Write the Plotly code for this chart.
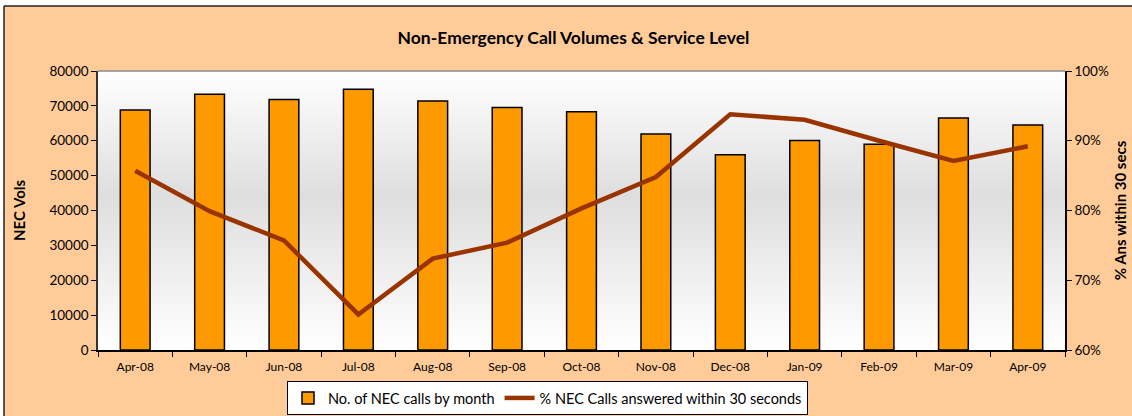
import base64
import plotly.graph_objects as go

months = ["Apr-08", "May-08", "Jun-08", "Jul-08", "Aug-08", "Sep-08", "Oct-08",
          "Nov-08", "Dec-08", "Jan-09", "Feb-09", "Mar-09", "Apr-09"]
nec_calls = [68800, 73300, 71800, 74800, 71400, 69500, 68300,
             61900, 56000, 60100, 59000, 66500, 64500]
pct_30s = [0.857, 0.799, 0.757, 0.651, 0.731, 0.754, 0.803,
           0.848, 0.938, 0.930, 0.900, 0.871, 0.892]

FONT = "Lato, Carlito, Calibri, sans-serif"

svg = ('<svg xmlns="http://www.w3.org/2000/svg" width="100" height="100" preserveAspectRatio="none">'
       '<defs><linearGradient id="g" x1="0" y1="0" x2="0" y2="1">'
       '<stop offset="0" stop-color="#ffffff"/>'
       '<stop offset="0.45" stop-color="#dedede"/>'
       '<stop offset="1" stop-color="#ffffff"/>'
       '</linearGradient></defs>'
       '<rect x="0" y="0" width="100" height="100" fill="url(#g)"/></svg>')
svg_uri = "data:image/svg+xml;base64," + base64.b64encode(svg.encode()).decode()

fig = go.Figure()
fig.add_trace(go.Bar(
    x=months, y=nec_calls, name="No. of NEC calls by month",
    marker=dict(color="#FF9900", line=dict(color="#000000", width=1.5)),
    width=0.4, yaxis="y",
))
fig.add_trace(go.Scatter(
    x=months, y=pct_30s, name="% NEC Calls answered within 30 seconds",
    mode="lines", line=dict(color="#993300", width=4.5), yaxis="y2",
))

W, H = 1132, 416
L, R, T, B = 98, 67, 71, 66
pw, ph = W - L - R, H - T - B

def px_x(x):
    return (x - L) / pw

def px_y(y):
    return (H - B - y) / ph

shapes = [
    # white strips outside the chart border (top & left)
    dict(type="rect", xref="paper", yref="paper", x0=px_x(-5), x1=px_x(W + 5),
         y0=px_y(6), y1=px_y(-5), fillcolor="white", line=dict(width=0), layer="above"),
    dict(type="rect", xref="paper", yref="paper", x0=px_x(-5), x1=px_x(4),
         y0=px_y(H + 5), y1=px_y(-5), fillcolor="white", line=dict(width=0), layer="above"),
    dict(type="line", xref="paper", yref="paper", x0=px_x(4), x1=px_x(W + 5),
         y0=px_y(6), y1=px_y(6), line=dict(color="#222222", width=1.5), layer="above"),
    dict(type="line", xref="paper", yref="paper", x0=px_x(4), x1=px_x(4),
         y0=px_y(6), y1=px_y(H + 5), line=dict(color="#222222", width=1.5), layer="above"),
    # top border of plot area
    dict(type="line", xref="paper", yref="paper", x0=0, x1=1, y0=1, y1=1,
         line=dict(color="#8c8c8c", width=1.5), layer="above"),
]

fig.update_layout(
    width=W, height=H,
    margin=dict(l=L, r=R, t=T, b=B, autoexpand=False),
    paper_bgcolor="#FFCC99",
    plot_bgcolor="rgba(0,0,0,0)",
    font=dict(family=FONT, color="#000000"),
    title=dict(text="<b>Non-Emergency Call Volumes & Service Level</b>",
               x=573.5 / W, xanchor="center", xref="container",
               y=1 - 38 / H, yanchor="middle", yref="container",
               font=dict(size=17.5, family=FONT, color="#000000")),
    bargap=0.6,
    showlegend=True,
    legend=dict(orientation="h", x=547.5 / W, xanchor="center", xref="container",
                y=1 - 381 / H, yanchor="top", yref="container",
                bgcolor="white", bordercolor="#000000", borderwidth=1,
                font=dict(size=14.5, family=FONT), traceorder="normal",
                itemwidth=30),
    xaxis=dict(
        type="category", showgrid=False, showline=True, linecolor="#000000", linewidth=1.5,
        ticks="outside", ticklen=5, tickcolor="#000000", tickwidth=1.2,
        tickson="boundaries", tickfont=dict(size=12, family=FONT), ticklabelstandoff=5,
        range=[-0.5, 12.5], fixedrange=True, automargin=False,
    ),
    yaxis=dict(
        range=[0, 80000], dtick=10000, tickformat="d", showgrid=False, zeroline=False,
        showline=True, linecolor="#333333", linewidth=1.5,
        ticks="outside", ticklen=5, tickcolor="#000000", tickwidth=1.2,
        tickfont=dict(size=13.5, family=FONT), automargin=False,
        title=dict(text="<b>NEC Vols</b>", font=dict(size=15, family=FONT), standoff=20),
    ),
    yaxis2=dict(
        range=[0.6, 1.0], dtick=0.1, tickformat=".0%", overlaying="y", side="right",
        showgrid=False, zeroline=False, showline=True, linecolor="#000000", linewidth=1.5,
        ticks="outside", ticklen=5, tickcolor="#000000", tickwidth=1.2,
        tickfont=dict(size=13.5, family=FONT), automargin=False,
        title=dict(text="<b>% Ans within 30 secs</b>", font=dict(size=15, family=FONT), standoff=8),
    ),
    images=[dict(source=svg_uri, xref="paper", yref="paper", x=0, y=1,
                 sizex=1, sizey=1, sizing="stretch", xanchor="left", yanchor="top",
                 layer="below")],
    shapes=shapes,
)

fig.write_html("out.html", config={"displayModeBar": False},
               post_script="document.body.style.margin='0';document.body.style.overflow='hidden';")
